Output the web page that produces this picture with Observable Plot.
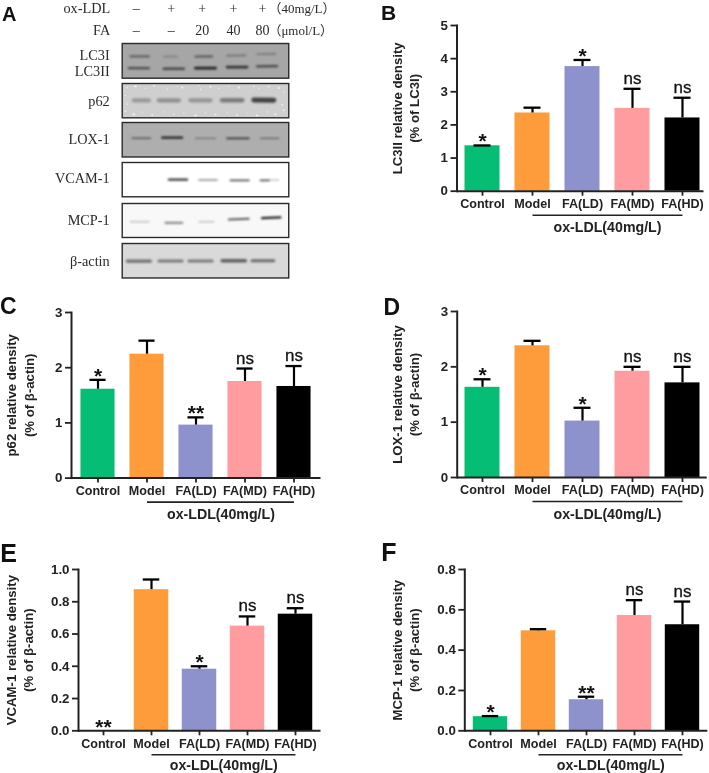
<!DOCTYPE html>
<html><head><meta charset="utf-8">
<script src="https://cdn.jsdelivr.net/npm/d3@7"></script>
<script src="https://cdn.jsdelivr.net/npm/@observablehq/plot@0.6"></script>
<style>
html,body{margin:0;padding:0;background:#fff}
#page{position:relative;width:709px;height:773px;overflow:hidden;background:#fff;filter:blur(0.3px)}
.slot{position:absolute}
.slot svg{overflow:visible;background:transparent;max-width:none;display:block}
.letter{position:absolute;font-family:"Liberation Sans",Arial,sans-serif;font-weight:bold;color:#111}
</style></head><body><div id="page"></div>
<script>
// ---------- bar chart data ----------
const groups = ["Control","Model","FA(LD)","FA(MD)","FA(HD)"];
const barColors = ["#05bd74","#fe9b3b","#8e92cc","#ff9c9f","#000000"];
const bValues = [1.37,2.36,3.76,2.50,2.21];
const bCaps   = [1.38,2.52,3.96,3.09,2.82];
const bMarks  = ["*","","*","ns","ns"];
const cValues = [1.61,2.245,0.96,1.75,1.66];
const cCaps   = [1.78,2.49,1.10,1.985,2.03];
const cMarks  = ["*","","**","ns","ns"];
const dValues = [1.63,2.38,1.02,1.92,1.71];
const dCaps   = [1.775,2.47,1.26,2.00,2.00];
const dMarks  = ["*","","*","ns","ns"];
const eValues = [0,0.875,0.382,0.649,0.723];
const eCaps   = [null,0.938,0.40,0.709,0.76];
const eMarks  = ["**","","*","ns","ns"];
const fValues = [0.07,0.496,0.154,0.572,0.526];
const fCaps   = [0.073,0.504,0.169,0.648,0.641];
const fMarks  = ["*","","**","ns","ns"];
const bTicks = [0,1,2,3,4,5];
const cdTicks = [0,1,2,3];
const eTicks = [0,0.2,0.4,0.6,0.8,1.0];
const fTicks = [0,0.2,0.4,0.6,0.8];
const groupLabel = "ox-LDL(40mg/L)";

// ---------- western blot data: lane span (% of width), height (% of panel), thickness, darkness ----------
const lc3Bands = [
 [5,16,37,37,2.2,.42],[25,33,38,38,1.7,.22],[44,54,38,37,2.2,.44],[63,74,35,34,1.7,.32],[81,92,31,30,1.6,.3],
 [4,16,71,71,2.2,.56],[25,37,73,73,2.5,.58],[44,56,71,71,2.8,.8],[63,75,68,68,2.6,.7],[81,93,66,65,2.2,.58]];
const p62Bands = [
 [7,16,49,49,4.2,.26],[22,34,49,49,4.2,.3],[41,53,49,49,4.2,.28],[60,72,49,49,4.6,.4],[79,91,48,49,5,.68]];
const p62Specks = [
 [3,12,.9],[8,8,1.3],[14,14,.7],[19,6,1.1],[27,16,.8],[33,9,.6],[36,12,1.2],[46,6,.7],[47,17,.9],[53,10,1.1],[58,14,.7],[64,7,.6],[70,12,1.2],[79,8,.8],[82,15,.6],[88,9,1],[94,13,1.2],[97,24,.8],
 [2,80,1],[7,90,1.3],[12,84,.7],[18,92,1],[25,83,.6],[31,90,.8],[37,86,.7],[44,93,1.2],[50,85,.6],[56,91,1.1],[63,84,.7],[69,92,1],[75,86,.6],[81,93,1.2],[87,83,.8],[92,90,1.1],[97,78,1],[3,60,.8],[96,62,.9],[2,35,.7]];
const loxBands = [
 [6,17,46,46,1.5,.5],[24,36,44,44,2.2,.82],[44,56,46,46,1.4,.36],[63,76,46,46,1.9,.68],[83,94,46,46,1.4,.46]];
const vcamBands = [
 [28,39,50,50,2.2,.78],[46,57,51,51,1.4,.48],[65,76,52,52,1.9,.68],[83,88,52,52,1.8,.68],[88,94,51,51,1.1,.36]];
const mcpBands = [
 [5,16,54,54,1.5,.22],[26,36,57,57,2.2,.44],[46,55,54,54,1.5,.22],[64,76,47,45,1.9,.64],[84,95,43,41,2.3,.88]];
const actinBands = [
 [3,17,51,51,3.2,.48],[22,36,51,51,3,.44],[40,54,51,51,3,.44],[60,74,50,50,3.4,.56],[78,91,50,50,3.2,.5]];
const blotRows = [
 {bands:lc3Bands,  bg:"#a6a6a6", labels:[["LC3I",34],["LC3II",81]], top:43.3, h:34.7},
 {bands:p62Bands,  bg:"#cfcfcf", labels:[["p62",53]], specks:p62Specks, top:82.7, h:34.3},
 {bands:loxBands,  bg:"#aeaeae", labels:[["LOX-1",50]], top:122.3, h:34.5},
 {bands:vcamBands, bg:"#ffffff", labels:[["VCAM-1",47]], top:161.7, h:34.3},
 {bands:mcpBands,  bg:"#f8f8f8", labels:[["MCP-1",50]], top:203.2, h:34},
 {bands:actinBands,bg:"#d9d9d9", labels:[["β-actin",51]], top:242.5, h:34.5}
];
const laneCenters = [8.4,29.4,48,66.8,84.2];
const oxRow = ["–","+","+","+","+"];
const faRow = ["–","–","20","40","80"];

// ---------- layout ----------
const page = document.getElementById("page");
const SANS = '"Liberation Sans",Arial,sans-serif';
const SERIF = '"Liberation Serif","Noto Sans CJK SC",serif';
function put(node,left,top,width){
  const d=document.createElement("div");d.className="slot";
  d.style.left=left+"px";d.style.top=top+"px";d.style.width=width+"px";
  d.appendChild(node);page.appendChild(d);
}

function barPanel(c){
  const data = groups.map((g,i)=>({group:g,color:barColors[i],value:c.values[i],cap:c.caps[i],mark:c.marks[i]}));
  const L=c.left, W=c.width, step=c.step;
  const inset=(step-35)/2, capInset=(step-17)/2;
  const stars=data.filter(d=>d.mark.includes("*")), ns=data.filter(d=>d.mark==="ns");
  const top=d=>d.cap??d.value;
  const plot = Plot.plot({
    width:W, height:c.zero-c.top+43,
    marginLeft:c.axis-L, marginRight:L+W-(c.axis+5*step),
    marginTop:0, marginBottom:43,
    style:{fontFamily:SANS,fontWeight:"bold",fontSize:"12.6px",color:"#222",overflow:"visible",background:"transparent"},
    x:{type:"band",domain:groups,padding:0,label:null},
    y:{domain:c.domain,label:null},
    marks:[
      Plot.barY(data,{x:"group",y:"value",fill:"color",insetLeft:inset,insetRight:inset}),
      Plot.ruleX(data.filter(d=>d.cap!=null),{x:"group",y1:"value",y2:"cap",stroke:"#000",strokeWidth:2.2}),
      Plot.tickY(data.filter(d=>d.cap!=null),{x:"group",y:"cap",stroke:"#000",strokeWidth:2.3,insetLeft:capInset,insetRight:capInset}),
      Plot.frame({anchor:"left",stroke:"#222",strokeWidth:2}),
      Plot.ruleY([0],{stroke:"#222",strokeWidth:2,insetRight:c.axisTrim||0}),
      Plot.axisY({ticks:c.ticks,tickFormat:c.fmt,tickSize:6,tickPadding:3,stroke:"#222",strokeWidth:1.8,label:null,fontSize:13.3}),
      Plot.axisX({tickSize:5,tickPadding:3,stroke:"#222",strokeWidth:1.8,label:null}),
      Plot.link([groupLabel],{x1:()=>"Model",x2:()=>"FA(HD)",y1:()=>0,y2:()=>0,dy:24,stroke:"#222",strokeWidth:1.6}),
      Plot.text([groupLabel],{x:()=>"FA(LD)",y:()=>0,dx:step/2,dy:c.groupDy,fontSize:14.2,fontWeight:"bold",fill:"#222"}),
      Plot.text([c.title],{frameAnchor:"left",textAnchor:"middle",rotate:-90,dx:c.titleDx,lineHeight:1.3,fontSize:13.2,fontWeight:"bold",fill:"#222"}),
      Plot.text(stars,{x:"group",y:top,text:"mark",lineAnchor:"bottom",dy:3,fontSize:21,fontWeight:"bold",fill:"#111"}),
      Plot.text(ns,{x:"group",y:top,text:"mark",lineAnchor:"bottom",dy:-5,fontSize:17,fontWeight:"normal",fill:"#111",stroke:"#111",strokeWidth:.3})
    ]
  });
  put(plot,L,c.top,W);
}

barPanel({values:bValues,caps:bCaps,marks:bMarks,domain:[0,5],ticks:bTicks,fmt:"d",title:"LC3II relative density\n(% of LC3I)",
  left:360,width:349,axis:456.5,step:50,top:25,zero:190.7,titleDx:-52,axisTrim:3,groupDy:36});
barPanel({values:cValues,caps:cCaps,marks:cMarks,domain:[0,3],ticks:cdTicks,fmt:"d",title:"p62 relative density\n(% of β-actin)",
  left:0,width:350,axis:71,step:49.9,top:311.7,zero:477.3,titleDx:-52,groupDy:36.5});
barPanel({values:dValues,caps:dCaps,marks:dMarks,domain:[0,3],ticks:cdTicks,fmt:"d",title:"LOX-1 relative density\n(% of β-actin)",
  left:360,width:349,axis:456.7,step:50,top:311.3,zero:477.3,titleDx:-52,groupDy:36.5});
barPanel({values:eValues,caps:eCaps,marks:eMarks,domain:[0,1],ticks:eTicks,fmt:".1f",title:"VCAM-1 relative density\n(% of β-actin)",
  left:0,width:350,axis:78,step:48.5,top:568.7,zero:730,titleDx:-59.5,groupDy:35});
barPanel({values:fValues,caps:fCaps,marks:fMarks,domain:[0,0.8],ticks:fTicks,fmt:".1f",title:"MCP-1 relative density\n(% of β-actin)",
  left:360,width:349,axis:464.3,step:48.6,top:568.7,zero:730,titleDx:-59.5,groupDy:35});

// ---------- panel A ----------
const blotLeft=121.7, blotWidth=166.6;
blotRows.forEach(r=>{
  const bands=r.bands.map(([x1,x2,y1,y2,w,dark])=>({x1,x2,y1,y2,w,dark}));
  const labels=r.labels.map(([t,y])=>({t,y}));
  const specks=(r.specks||[]).map(([x,y,s])=>({x,y,s}));
  const plot=Plot.plot({
    width:blotLeft+blotWidth,height:r.h,marginLeft:blotLeft,marginRight:0,marginTop:0,marginBottom:0,
    style:{overflow:"visible",background:"transparent"},
    x:{domain:[0,100],axis:null},y:{domain:[100,0],axis:null},
    r:{type:"identity"},
    opacity:{domain:[0,1],range:[0,1]},
    marks:[
      Plot.frame({fill:r.bg,stroke:null}),
      Plot.dot(specks,{x:"x",y:"y",r:"s",fill:"#fff",fillOpacity:.6,imageFilter:"blur(0.5px)"}),
      Plot.link(bands,{x1:"x1",x2:"x2",y1:"y1",y2:"y2",stroke:"#000",strokeOpacity:"dark",strokeWidth:"w",strokeLinecap:"round",imageFilter:"blur(1.2px)"}),
      Plot.frame({stroke:"#2a2a2a",strokeWidth:1.4}),
      Plot.text(labels,{x:()=>0,y:"y",text:"t",dx:-12.5,textAnchor:"end",fontFamily:SERIF,fontSize:14.3,fill:"#2a2a2a"})
    ]
  });
  put(plot,0,r.top,blotLeft+blotWidth);
});

const headerRows=["ox-LDL","FA"];
const header=[...oxRow.map((t,i)=>({t,row:"ox-LDL",x:laneCenters[i]})),...faRow.map((t,i)=>({t,row:"FA",x:laneCenters[i]}))];
const units=[{row:"ox-LDL",t:"（40mg/L）"},{row:"FA",t:"（μmol/L）"}];
const headPlot=Plot.plot({
  width:blotLeft+blotWidth,height:40,marginLeft:blotLeft,marginRight:0,marginTop:0,marginBottom:0,
  style:{overflow:"visible",background:"transparent"},
  x:{domain:[0,100],axis:null},y:{type:"point",domain:headerRows,range:[7.5,29.5],padding:0,axis:null},
  marks:[
    Plot.text(header,{x:"x",y:"row",text:"t",fontFamily:SERIF,fontSize:14,fill:"#2a2a2a"}),
    Plot.text(headerRows,{x:()=>0,y:d=>d,text:d=>d,dx:-12,textAnchor:"end",fontFamily:SERIF,fontSize:14.3,fill:"#2a2a2a"}),
    Plot.text(units,{x:()=>84.2,y:"row",text:"t",dx:6,textAnchor:"start",fontFamily:SERIF,fontSize:13,fill:"#2a2a2a"})
  ]
});
put(headPlot,0,0,blotLeft+blotWidth);

// ---------- panel letters ----------
[["A",2,4.4,20],["B",381,2.3,21],["C",0,295,23],["D",383.4,296.3,23],["E",0.3,540.7,25],["F",381.2,539.7,25]].forEach(([t,x,y,s])=>{
  const d=document.createElement("div");d.className="letter";d.textContent=t;
  d.style.left=x+"px";d.style.top=y+"px";d.style.fontSize=s+"px";d.style.lineHeight=s+"px";page.appendChild(d);
});
</script></body></html>
